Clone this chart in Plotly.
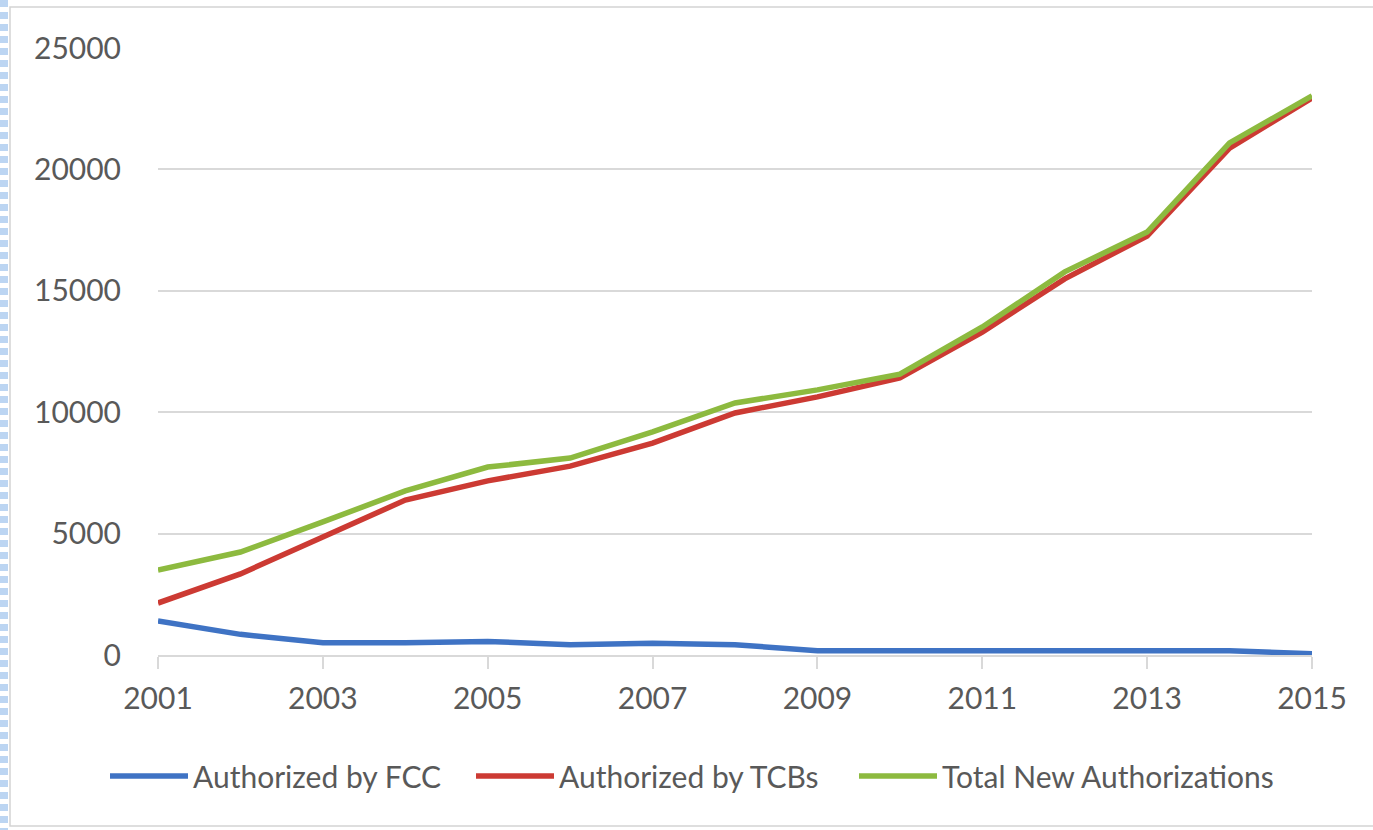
import plotly.graph_objects as go

years = list(range(2001, 2016))
fcc = [1400, 850, 500, 500, 560, 420, 480, 420, 180, 180, 180, 180, 180, 180, 50]
tcbs = [2140, 3340, 4860, 6380, 7170, 7780, 8730, 9970, 10630, 11410, 13300, 15490, 17260, 20880, 22940]
total = [3500, 4240, 5480, 6760, 7740, 8110, 9190, 10380, 10920, 11570, 13510, 15780, 17420, 21090, 23030]

names = ["Authorized by FCC", "Authorized by TCBs", "Total New Authorizations"]
colors = ["#3F73C4", "#CC3A33", "#8DBA3F"]
series = [fcc, tcbs, total]
legend_ids = ["legend", "legend2", "legend3"]

FONT = "Lato"
TXT = "#595959"

fig = go.Figure()
for name, col, vals, lg in zip(names, colors, series, legend_ids):
    fig.add_trace(go.Scatter(x=years, y=vals, name=name, mode="lines",
                             line=dict(color=col, width=5.5), legend=lg))

L, T, W, H = 158, 48, 1154, 607
def px(x):
    return (x - L) / W
def py(y):
    return (T + H - y) / H

shapes = [
    dict(type="rect", xref="paper", yref="paper", x0=px(10), x1=px(1380), y0=py(7), y1=py(826),
         line=dict(color="#d4d4d4", width=1.5), layer="below"),
    dict(type="line", xref="paper", yref="paper", x0=px(4), x1=px(4), y0=py(0), y1=py(830),
         line=dict(color="#bcd5f2", width=8, dash="7px,5px")),
]

def leg(xstart):
    return dict(orientation="h", x=px(xstart), xanchor="left", y=py(776), yanchor="middle",
                font=dict(family=FONT, size=30, color=TXT), bgcolor="rgba(0,0,0,0)",
                itemwidth=78)

fig.update_layout(
    width=1373, height=830,
    margin=dict(l=L, r=1373 - L - W, t=T, b=830 - T - H),
    paper_bgcolor="white", plot_bgcolor="white",
    font=dict(family=FONT, size=30, color=TXT),
    showlegend=True,
    legend=leg(111 - 6),
    legend2=leg(477 - 6),
    legend3=leg(860 - 6),
    xaxis=dict(range=[2001, 2015], tickmode="array", tickvals=list(range(2001, 2016, 2)),
               showgrid=False, zeroline=False, showline=True, linecolor="#d9d9d9", linewidth=1.5,
               ticks="outside", ticklen=12, tickcolor="#d9d9d9", tickwidth=1.5,
               ticklabelstandoff=4,
               tickfont=dict(family=FONT, size=30, color=TXT), fixedrange=True),
    yaxis=dict(range=[0, 25000], tickmode="array", tickvals=[0, 5000, 10000, 15000, 20000, 25000],
               ticktext=["0", "5000", "10000", "15000", "20000", "25000"],
               showgrid=True, gridcolor="#d9d9d9", gridwidth=1.5, zeroline=False, showline=False,
               ticks="", ticklabelstandoff=36,
               tickfont=dict(family=FONT, size=30, color=TXT), fixedrange=True),
    shapes=shapes,
)

fig.write_html("out.html", config={"displayModeBar": False},
               post_script="document.body.style.margin='0';")
